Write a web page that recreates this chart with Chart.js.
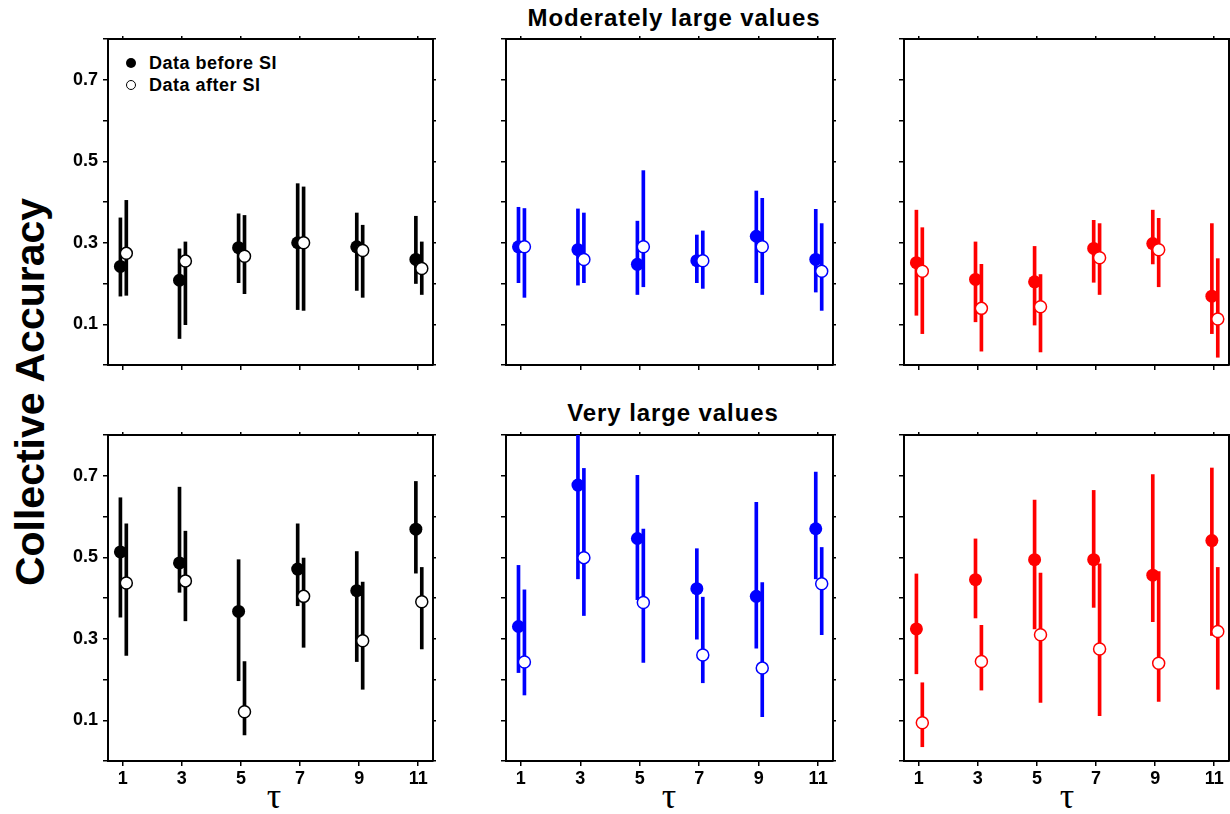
<!DOCTYPE html>
<html><head><meta charset="utf-8">
<script src="https://cdn.jsdelivr.net/npm/chart.js@4/dist/chart.umd.min.js"></script>
<style>
html,body{margin:0;padding:0;background:#fff;width:1230px;height:814px;overflow:hidden;position:relative;font-family:"Liberation Sans",Arial,sans-serif;}
canvas{position:absolute;}
.t{position:absolute;font-weight:bold;white-space:nowrap;color:#000;line-height:1;}
.tau{position:absolute;font-family:"Liberation Serif","DejaVu Serif",serif;font-size:36px;line-height:1;transform:translateX(-50%);color:#000;}
.mk{position:absolute;border-radius:50%;box-sizing:border-box;}
</style></head><body>
<div class="t" style="left:674px;top:6px;font-size:24px;letter-spacing:0.9px;transform:translateX(-50%);">Moderately large values</div>
<div class="t" style="left:673px;top:401px;font-size:24px;letter-spacing:0.9px;transform:translateX(-50%);">Very large values</div>
<div class="t" style="left:30px;top:392px;font-size:41px;transform-origin:0 0;transform:rotate(-90deg) translate(-50%,-50%);">Collective Accuracy</div>
<div class="tau" style="left:274px;top:778px;">τ</div>
<div class="tau" style="left:669px;top:778px;">τ</div>
<div class="tau" style="left:1067px;top:778px;">τ</div>
<div class="mk" style="left:126px;top:58px;width:10px;height:10px;background:#000;"></div>
<div class="mk" style="left:126px;top:80px;width:10px;height:10px;background:#fff;border:1.5px solid #000;"></div>
<div class="t" style="left:149px;top:54px;font-size:18px;letter-spacing:0.5px;">Data before SI</div>
<div class="t" style="left:149px;top:76px;font-size:18px;letter-spacing:0.5px;">Data after SI</div>
<script>
const tau = [1, 3, 5, 7, 9, 11];

// Moderately large values (top row)
const modBlackBefore   = [0.242, 0.208, 0.288, 0.300, 0.290, 0.259];
const modBlackBeforeLo = [0.169, 0.065, 0.202, 0.136, 0.183, 0.200];
const modBlackBeforeHi = [0.361, 0.285, 0.371, 0.445, 0.373, 0.365];
const modBlackAfter    = [0.274, 0.255, 0.267, 0.300, 0.281, 0.237];
const modBlackAfterLo  = [0.171, 0.099, 0.175, 0.134, 0.166, 0.173];
const modBlackAfterHi  = [0.404, 0.302, 0.367, 0.437, 0.343, 0.302];

const modBlueBefore   = [0.290, 0.283, 0.247, 0.256, 0.316, 0.259];
const modBlueBeforeLo = [0.202, 0.196, 0.173, 0.202, 0.202, 0.179];
const modBlueBeforeHi = [0.387, 0.383, 0.353, 0.319, 0.427, 0.382];
const modBlueAfter    = [0.290, 0.259, 0.290, 0.256, 0.290, 0.230];
const modBlueAfterLo  = [0.166, 0.202, 0.192, 0.188, 0.173, 0.134];
const modBlueAfterHi  = [0.384, 0.373, 0.477, 0.329, 0.409, 0.347];

const modRedBefore   = [0.251, 0.210, 0.204, 0.286, 0.298, 0.169];
const modRedBeforeLo = [0.122, 0.106, 0.098, 0.203, 0.248, 0.077];
const modRedBeforeHi = [0.380, 0.302, 0.291, 0.355, 0.380, 0.347];
const modRedAfter    = [0.230, 0.139, 0.143, 0.263, 0.283, 0.113];
const modRedAfterLo  = [0.077, 0.034, 0.032, 0.173, 0.192, 0.019];
const modRedAfterHi  = [0.337, 0.247, 0.222, 0.347, 0.360, 0.261];

// Very large values (bottom row)
const vlBlackBefore   = [0.513, 0.486, 0.367, 0.471, 0.418, 0.569];
const vlBlackBeforeLo = [0.353, 0.414, 0.197, 0.381, 0.244, 0.461];
const vlBlackBeforeHi = [0.646, 0.672, 0.494, 0.582, 0.514, 0.686];
const vlBlackAfter    = [0.437, 0.442, 0.121, 0.404, 0.295, 0.391];
const vlBlackAfterLo  = [0.259, 0.344, 0.064, 0.279, 0.176, 0.275];
const vlBlackAfterHi  = [0.582, 0.564, 0.244, 0.498, 0.439, 0.475];

const vlBlueBefore   = [0.330, 0.677, 0.546, 0.423, 0.404, 0.570];
const vlBlueBeforeLo = [0.217, 0.447, 0.396, 0.299, 0.277, 0.447];
const vlBlueBeforeHi = [0.480, 0.800, 0.701, 0.521, 0.635, 0.709];
const vlBlueAfter    = [0.243, 0.499, 0.389, 0.260, 0.228, 0.435];
const vlBlueAfterLo  = [0.162, 0.357, 0.242, 0.192, 0.109, 0.310];
const vlBlueAfterHi  = [0.420, 0.718, 0.569, 0.402, 0.438, 0.524];

const vlRedBefore   = [0.324, 0.445, 0.494, 0.494, 0.456, 0.541];
const vlRedBeforeLo = [0.214, 0.351, 0.324, 0.377, 0.342, 0.308];
const vlRedBeforeHi = [0.459, 0.545, 0.640, 0.664, 0.703, 0.719];
const vlRedAfter    = [0.094, 0.244, 0.310, 0.275, 0.240, 0.318];
const vlRedAfterLo  = [0.035, 0.174, 0.144, 0.111, 0.146, 0.176];
const vlRedAfterHi  = [0.192, 0.333, 0.461, 0.484, 0.465, 0.475];

const panels = [
  {row:0,col:0,color:'#000000',b:modBlackBefore,bLo:modBlackBeforeLo,bHi:modBlackBeforeHi,a:modBlackAfter,aLo:modBlackAfterLo,aHi:modBlackAfterHi},
  {row:0,col:1,color:'#0000ff',b:modBlueBefore,bLo:modBlueBeforeLo,bHi:modBlueBeforeHi,a:modBlueAfter,aLo:modBlueAfterLo,aHi:modBlueAfterHi},
  {row:0,col:2,color:'#ff0000',b:modRedBefore,bLo:modRedBeforeLo,bHi:modRedBeforeHi,a:modRedAfter,aLo:modRedAfterLo,aHi:modRedAfterHi},
  {row:1,col:0,color:'#000000',b:vlBlackBefore,bLo:vlBlackBeforeLo,bHi:vlBlackBeforeHi,a:vlBlackAfter,aLo:vlBlackAfterLo,aHi:vlBlackAfterHi},
  {row:1,col:1,color:'#0000ff',b:vlBlueBefore,bLo:vlBlueBeforeLo,bHi:vlBlueBeforeHi,a:vlBlueAfter,aLo:vlBlueAfterLo,aHi:vlBlueAfterHi},
  {row:1,col:2,color:'#ff0000',b:vlRedBefore,bLo:vlRedBeforeLo,bHi:vlRedBeforeHi,a:vlRedAfter,aLo:vlRedAfterLo,aHi:vlRedAfterHi}
];

const FONT = "'Liberation Sans', Arial, sans-serif";
const COLS = [[108,433],[506,833],[904,1229]];
const ROWS = [[39,365],[435,761]];
const AX = {left:60, right:8, top:8, bottom:36};
const OFF_B = -0.08, OFF_A = 0.12;

function grid(len){ return {drawOnChartArea:false, drawTicks:true, tickLength:len, color:'#000', lineWidth:1.5, offset:false}; }
const border = {display:true, color:'#000', width:2};
const tickFont = {family:FONT, size:18, weight:'bold'};
const setTauTicks = s => { s.ticks = tau.map(v => ({value:v})); };
function noPad(s){ s.paddingTop = 0; s.paddingBottom = 0; s.paddingLeft = 0; s.paddingRight = 0; }

function makePanel(p){
  const [fl,fr] = COLS[p.col], [ft,fb] = ROWS[p.row];
  const w = fr-fl+AX.left+AX.right, h = fb-ft+AX.top+AX.bottom;
  const c = document.createElement('canvas');
  c.width = w; c.height = h;
  c.style.left = (fl-AX.left)+'px'; c.style.top = (ft-AX.top)+'px';
  c.style.width = w+'px'; c.style.height = h+'px';
  document.body.appendChild(c);
  const err = (lo,hi,off) => tau.map((t,i) => ({x:t+off, y:[lo[i],hi[i]]}));
  const pts = (v,off) => tau.map((t,i) => ({x:t+off, y:v[i]}));
  new Chart(c, {
    type:'scatter',
    data:{datasets:[
      {type:'bar', xAxisID:'x', yAxisID:'y', data:err(p.bLo,p.bHi,OFF_B), backgroundColor:p.color, barThickness:3, grouped:false, order:3},
      {type:'scatter', xAxisID:'x', yAxisID:'y', data:pts(p.b,OFF_B), pointRadius:6.5, backgroundColor:p.color, borderColor:p.color, borderWidth:0, order:2},
      {type:'bar', xAxisID:'x', yAxisID:'y', data:err(p.aLo,p.aHi,OFF_A), backgroundColor:p.color, barThickness:3, grouped:false, order:1},
      {type:'scatter', xAxisID:'x', yAxisID:'y', data:pts(p.a,OFF_A), pointRadius:6, backgroundColor:'#ffffff', borderColor:p.color, borderWidth:1.5, order:0}
    ]},
    options:{
      responsive:false, animation:false, events:[],
      layout:{padding:0},
      plugins:{legend:{display:false}, tooltip:{enabled:false}},
      scales:{
        x:{type:'linear', position:'bottom', min:0.5, max:11.5, offset:false, afterBuildTicks:setTauTicks,
           ticks:{display:p.row===1, font:tickFont, color:'#000', padding:2, maxRotation:0, autoSkip:false},
           grid:grid(5), border:border, afterFit:s=>{s.height=AX.bottom; noPad(s);}},
        x2:{type:'linear', position:'top', min:0.5, max:11.5, offset:false, afterBuildTicks:setTauTicks,
           ticks:{display:false}, grid:grid(3), border:border, afterFit:s=>{s.height=AX.top; noPad(s);}},
        y:{type:'linear', position:'left', min:0, max:0.8, offset:false,
           ticks:{display:p.col===0, stepSize:0.1, autoSkip:false, font:tickFont, color:'#000', padding:5,
             callback:v=>{const k=Math.round(v*10); return k%2===1 ? (k/10).toFixed(1) : '';}},
           grid:grid(5), border:border, afterFit:s=>{s.width=AX.left; noPad(s);}},
        y2:{type:'linear', position:'right', min:0, max:0.8, offset:false,
           ticks:{display:false, stepSize:0.1, autoSkip:false},
           grid:grid(3), border:border, afterFit:s=>{s.width=AX.right; noPad(s);}}
      }
    }
  });
}
panels.forEach(makePanel);
</script>
</body></html>
